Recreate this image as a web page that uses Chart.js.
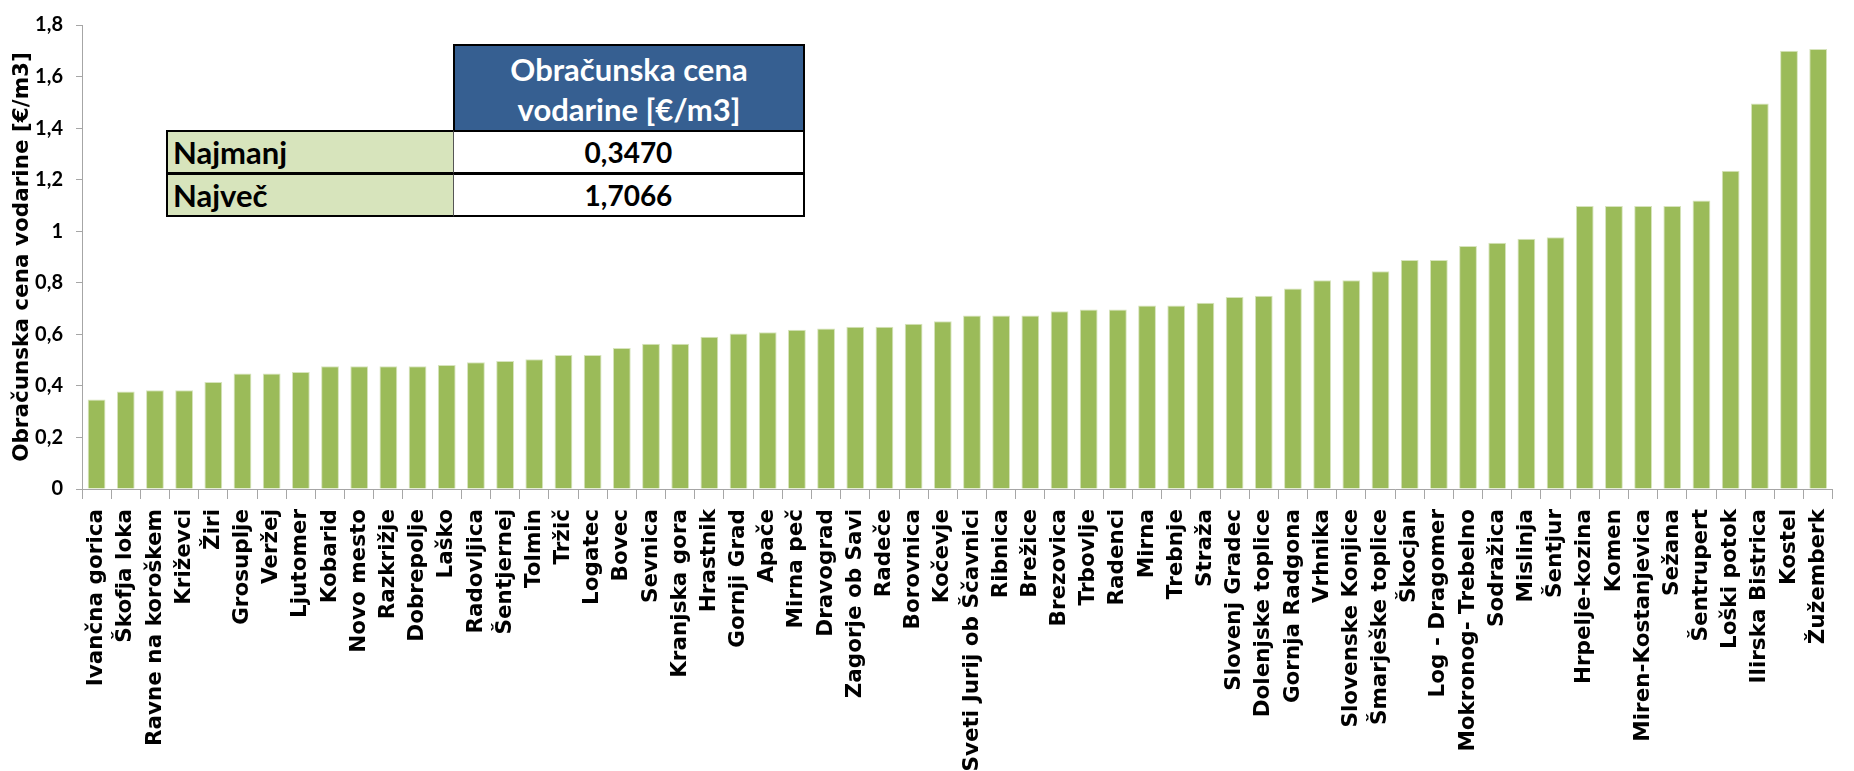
<!DOCTYPE html>
<html>
<head>
<meta charset="utf-8">
<script src="https://cdn.jsdelivr.net/npm/chart.js"></script>
<style>
  body { margin: 0; background: #fff; }
  #wrap { position: relative; width: 1854px; height: 771px; }
  .cell {
    position: absolute; box-sizing: border-box; display: flex; align-items: center;
    font-family: Lato, sans-serif; font-weight: bold; color: #000; font-size: 31px;
  }
</style>
</head>
<body>
<div id="wrap">
  <canvas id="grafVodarina"></canvas>
  <div id="tabela"></div>
</div>
<script>
// ===== PODATKI =====
const obcine = [
  'Ivančna gorica', 'Škofja loka', 'Ravne na koroškem', 'Križevci', 'Žiri',
  'Grosuplje', 'Veržej', 'Ljutomer', 'Kobarid', 'Novo mesto',
  'Razkrižje', 'Dobrepolje', 'Laško', 'Radovljica', 'Šentjernej',
  'Tolmin', 'Tržič', 'Logatec', 'Bovec', 'Sevnica',
  'Kranjska gora', 'Hrastnik', 'Gornji Grad', 'Apače', 'Mirna peč',
  'Dravograd', 'Zagorje ob Savi', 'Radeče', 'Borovnica', 'Kočevje',
  'Sveti Jurij ob Ščavnici', 'Ribnica', 'Brežice', 'Brezovica', 'Trbovlje',
  'Radenci', 'Mirna', 'Trebnje', 'Straža', 'Slovenj Gradec',
  'Dolenjske toplice', 'Gornja Radgona', 'Vrhnika', 'Slovenske Konjice', 'Šmarješke toplice',
  'Škocjan', 'Log - Dragomer', 'Mokronog- Trebelno', 'Sodražica', 'Mislinja',
  'Šentjur', 'Hrpelje-kozina', 'Komen', 'Miren-Kostanjevica', 'Sežana',
  'Šentrupert', 'Loški potok', 'Ilirska Bistrica', 'Kostel', 'Žužemberk'
];

const cene = [
  0.347, 0.378, 0.383, 0.383, 0.415,
  0.448, 0.448, 0.454, 0.476, 0.476,
  0.476, 0.476, 0.481, 0.492, 0.497,
  0.503, 0.520, 0.520, 0.547, 0.563,
  0.563, 0.591, 0.603, 0.608, 0.618,
  0.623, 0.629, 0.629, 0.641, 0.651,
  0.673, 0.673, 0.673, 0.690, 0.696,
  0.696, 0.712, 0.712, 0.723, 0.745,
  0.750, 0.778, 0.810, 0.810, 0.845,
  0.888, 0.888, 0.943, 0.955, 0.971,
  0.977, 1.098, 1.098, 1.098, 1.098,
  1.119, 1.235, 1.495, 1.700, 1.7066
];

const yMax = 1.8;
const yKorak = 0.2;
const naslovY = 'Obračunska cena vodarine [€/m3]';
const glavaTabele = ['Obračunska cena', 'vodarine [€/m3]'];
const vrsticeTabele = ['Najmanj', 'Največ'];

// ===== FORMAT =====
function formatVejica(v, dec) {
  return v.toFixed(dec).replace('.', ',');
}

// ===== TABELA (min / max) =====
function renderTabela() {
  const vrednosti = [Math.min(...cene), Math.max(...cene)];
  const t = document.getElementById('tabela');
  let html = `
    <div class="cell" style="left:453px;top:44px;width:352px;height:87px;background:#365f91;color:#fff;
      justify-content:center;text-align:center;line-height:40px;padding-top:2px;border:2px solid #000;border-bottom:1px solid #000;">
      ${glavaTabele.join('<br>')}
    </div>`;
  vrsticeTabele.forEach((ime, i) => {
    const top = 130 + i * 43;
    html += `
    <div class="cell" style="left:166px;top:${top}px;width:288px;height:44px;background:#d7e4bc;
      padding-left:5px;border:2px solid #000;border-right:1px solid #555;">${ime}</div>
    <div class="cell" style="left:453px;top:${top}px;width:352px;height:44px;background:#fff;font-size:28px;
      justify-content:center;border:2px solid #000;border-left:1px solid #555;">${formatVejica(vrednosti[i], 4)}</div>`;
  });
  t.innerHTML = html;
}

// ===== GRAF =====
function renderGraf() {
  const ctx = document.getElementById('grafVodarina').getContext('2d');
  new Chart(ctx, {
    type: 'bar',
    data: {
      labels: obcine,
      datasets: [{
        data: cene,
        backgroundColor: '#9bbb59',
        borderColor: '#d7e4bd',
        borderWidth: 1,
        barPercentage: 0.61,
        categoryPercentage: 1
      }]
    },
    options: {
      responsive: true,
      maintainAspectRatio: false,
      animation: false,
      layout: { padding: { top: 18, right: 2, left: 0, bottom: 0 } },
      plugins: { legend: { display: false }, tooltip: { enabled: false } },
      scales: {
        x: {
          afterFit: s => { s.height = 282; },
          grid: { display: true, drawOnChartArea: false, drawTicks: true, tickLength: 10, color: '#a6a6a6' },
          border: { color: '#a6a6a6', width: 1 },
          ticks: {
            autoSkip: false, minRotation: 90, maxRotation: 90, padding: 10, color: '#000',
            font: { family: 'DejaVu Sans', weight: 'bold', size: 21.5 }
          }
        },
        y: {
          min: 0,
          max: yMax,
          afterFit: s => { s.width = 82; },
          grid: { display: true, drawOnChartArea: false, drawTicks: true, tickLength: 6, color: '#a6a6a6' },
          border: { color: '#a6a6a6', width: 1 },
          ticks: {
            stepSize: yKorak, padding: 13, color: '#000',
            font: { family: 'Lato', weight: 'bold', size: 20 },
            callback: v => String(Math.round(v * 10) / 10).replace('.', ',')
          },
          title: {
            display: true, text: naslovY, color: '#000',
            padding: { top: 10, bottom: 0 },
            font: { family: 'DejaVu Sans', weight: 'bold', size: 21.5 }
          }
        }
      }
    }
  });
}

// ===== INIT =====
renderGraf();
renderTabela();
</script>
</body>
</html>
